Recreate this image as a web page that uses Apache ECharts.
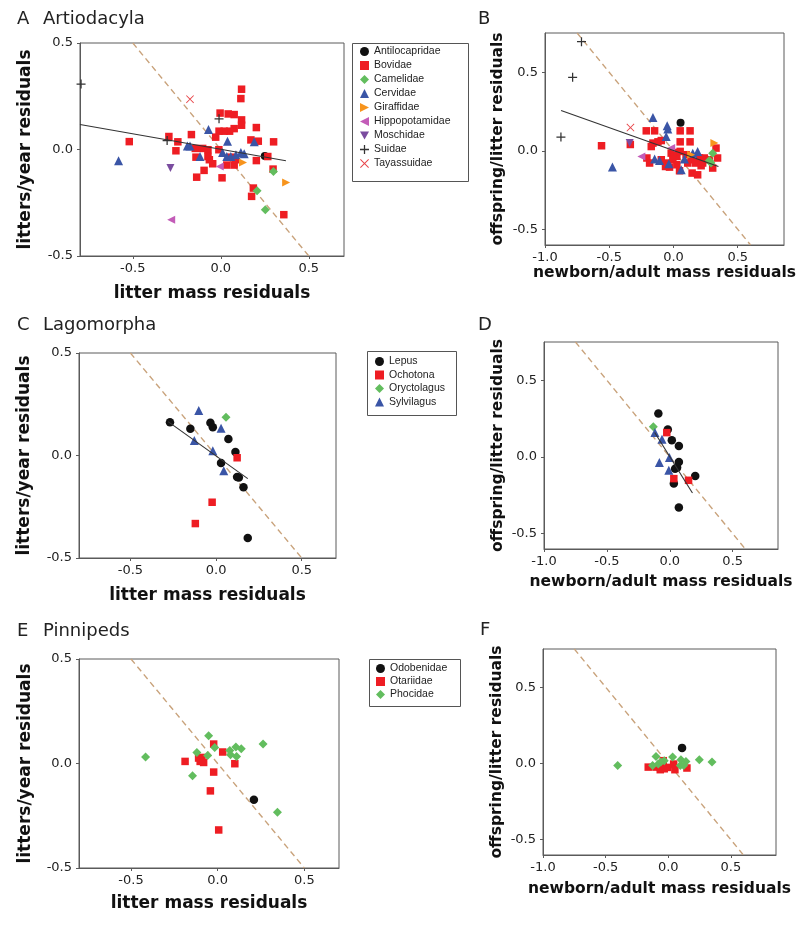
<!DOCTYPE html>
<html>
<head>
<meta charset="utf-8">
<script src="https://cdn.jsdelivr.net/npm/echarts@6/dist/echarts.min.js"></script>
<style>
html,body{margin:0;padding:0;background:#fff;}
#chart{width:800px;height:926px;}
</style>
</head>
<body>
<div id="chart"></div>
<script>
// ---------- DATA ----------
// Panel A (litter mass residuals vs litters/year residuals) - Artiodacyla
const A_Antilocapridae = [[0.25,-0.03]];
const A_Bovidae = [[-0.52,0.037],[-0.295,0.061],[-0.244,0.036],[-0.255,-0.006],[-0.167,0.07],[-0.145,0.005],[-0.103,0.005],[-0.141,-0.036],[-0.073,-0.001],[-0.073,-0.033],[-0.065,-0.048],[-0.046,-0.067],[-0.095,-0.098],[-0.137,-0.13],[0.007,-0.133],[-0.011,-0.001],[0.034,-0.073],[0.076,-0.073],[0.084,-0.048],[0.057,-0.036],[0.118,0.283],[0.114,0.239],[-0.004,0.171],[0.042,0.167],[0.076,0.164],[0.118,0.139],[0.118,0.114],[0.202,0.103],[0.076,0.098],[0.05,0.086],[0.019,0.086],[-0.01,0.086],[-0.029,0.058],[0.171,0.045],[0.213,0.039],[0.30,0.036],[0.202,-0.052],[0.267,-0.033],[0.297,-0.092],[0.185,-0.181],[0.175,-0.22],[0.358,-0.306]];
const A_Camelidae = [[0.299,-0.103],[0.206,-0.194],[0.253,-0.283]];
const A_Cervidae = [[-0.581,-0.053],[-0.19,0.017],[-0.175,0.017],[-0.118,-0.033],[-0.07,0.094],[0.038,0.039],[0.01,-0.014],[0.034,-0.033],[0.057,-0.033],[0.086,-0.025],[0.114,-0.014],[0.133,-0.02],[0.19,0.036]];
const A_Giraffidae = [[0.126,-0.061],[0.371,-0.155]];
const A_Hippopotamidae = [[-0.282,-0.33],[-0.006,-0.08]];
const A_Moschidae = [[-0.286,-0.087]];
const A_Suidae = [[-0.794,0.307],[-0.305,0.042],[-0.01,0.144]];
const A_Tayassuidae = [[-0.175,0.236]];
const A_fit = [[-0.8,0.117],[0.37,-0.053]];

// Panel B (newborn/adult mass residuals vs offspring/litter residuals) - Artiodacyla
const B_Antilocapridae = [[0.055,0.178]];
const B_Bovidae = [[-0.56,0.032],[-0.336,0.04],[-0.212,0.127],[-0.147,0.127],[0.052,0.127],[0.129,0.127],[0.052,0.057],[0.129,0.057],[-0.16,0.049],[-0.121,0.057],[-0.095,0.065],[-0.173,0.027],[-0.207,-0.046],[-0.186,-0.078],[-0.095,-0.057],[-0.057,-0.078],[-0.018,-0.015],[0.008,-0.011],[0.026,-0.036],[0.052,-0.004],[0.098,-0.025],[-0.005,-0.057],[0.026,-0.089],[0.047,-0.127],[-0.031,-0.104],[0.137,-0.057],[0.176,-0.074],[0.202,-0.046],[0.227,-0.078],[0.24,-0.046],[0.145,-0.142],[0.188,-0.153],[0.305,-0.11],[0.331,0.017],[0.279,-0.057],[0.343,-0.046],[-0.062,-0.1],[0.111,-0.078],[0.171,-0.078],[0.215,-0.095]];
const B_Camelidae = [[0.305,-0.015],[0.279,-0.062],[0.292,-0.078]];
const B_Cervidae = [[-0.16,0.212],[-0.049,0.159],[-0.044,0.138],[-0.057,0.091],[-0.475,-0.104],[-0.147,-0.053],[-0.109,-0.062],[-0.036,-0.083],[0.06,-0.121],[0.085,-0.053],[0.15,-0.015],[0.188,-0.004]];
const B_Giraffidae = [[0.137,-0.025],[0.318,0.049]];
const B_Hippopotamidae = [[-0.25,-0.036],[-0.018,0.017]];
const B_Moschidae = [[-0.341,0.049]];
const B_Suidae = [[-0.716,0.695],[-0.785,0.468],[-0.876,0.087]];
const B_Tayassuidae = [[-0.335,0.148]];
const B_fit = [[-0.875,0.256],[0.35,-0.1]];

// Panel C - Lagomorpha
const C_Lepus = [[-0.269,0.162],[-0.15,0.13],[-0.033,0.16],[-0.019,0.138],[0.072,0.081],[0.113,0.017],[0.029,-0.037],[0.133,-0.107],[0.123,-0.105],[0.16,-0.155],[0.185,-0.403]];
const C_Ochotona = [[0.123,-0.011],[-0.023,-0.228],[-0.121,-0.332]];
const C_Oryctolagus = [[0.058,0.186]];
const C_Sylvilagus = [[-0.101,0.22],[-0.127,0.073],[0.029,0.133],[-0.019,0.023],[0.045,-0.074]];
const C_fit = [[-0.28,0.165],[0.185,-0.113]];

// Panel D - Lagomorpha
const D_Lepus = [[-0.091,0.283],[-0.016,0.18],[0.016,0.109],[0.072,0.072],[0.072,-0.033],[0.058,-0.069],[0.042,-0.076],[0.202,-0.124],[0.032,-0.173],[0.072,-0.329]];
const D_Ochotona = [[-0.024,0.159],[0.032,-0.141],[0.149,-0.152]];
const D_Oryctolagus = [[-0.131,0.198]];
const D_Sylvilagus = [[-0.118,0.159],[-0.062,0.115],[-0.083,-0.036],[-0.003,-0.004],[-0.008,-0.087]];
const D_fit = [[-0.12,0.16],[0.18,-0.235]];

// Panel E - Pinnipeds
const E_Odobenidae = [[0.209,-0.174]];
const E_Otariidae = [[-0.188,0.01],[-0.11,0.026],[-0.091,0.029],[-0.101,0.01],[-0.081,0.005],[-0.023,0.093],[0.029,0.055],[0.099,-0.001],[-0.023,-0.041],[-0.042,-0.131],[0.006,-0.318]];
const E_Phocidae = [[-0.416,0.031],[-0.12,0.053],[-0.052,0.133],[-0.058,0.038],[-0.017,0.077],[-0.145,-0.059],[0.07,0.062],[0.074,0.042],[0.105,0.079],[0.109,0.034],[0.136,0.071],[0.262,0.093],[0.345,-0.233]];

// Panel F - Pinnipeds
const F_Odobenidae = [[0.11,0.102]];
const F_Otariidae = [[-0.16,-0.024],[-0.098,-0.024],[-0.064,-0.026],[-0.045,-0.004],[-0.032,-0.035],[-0.005,-0.026],[0.043,-0.004],[0.053,-0.041],[0.149,-0.03],[-0.064,-0.041],[-0.04,0.018]];
const F_Phocidae = [[-0.404,-0.013],[-0.098,0.046],[0.035,0.042],[0.248,0.024],[0.349,0.009],[-0.125,-0.013],[-0.08,-0.004],[-0.032,0.018],[0.101,0.024],[0.141,0.013],[0.096,-0.013],[0.123,-0.013],[-0.06,0.01]];

// Reference (slope -1) lines
const ref_left = [[-0.5,0.5],[0.5,-0.5]];
const ref_right = [[-0.75,0.75],[0.6,-0.6]];

// Axis ticks
const leftXTicks = [-0.5, 0, 0.5];
const leftYTicks = [-0.5, 0, 0.5];
const rightXTicks = [-1, -0.5, 0, 0.5];
const rightYTicks = [-0.5, 0, 0.5];

const artioNames = ['Antilocapridae','Bovidae','Camelidae','Cervidae','Giraffidae','Hippopotamidae','Moschidae','Suidae','Tayassuidae'];
const lagoNames = ['Lepus','Ochotona','Oryctolagus','Sylvilagus'];
const pinniNames = ['Odobenidae','Otariidae','Phocidae'];

// ---------- STYLE ----------
const COL = {
  black:'#111111', red:'#ee1d23', green:'#62bd5e', blue:'#3a55a6', orange:'#f7941d',
  pink:'#c35cb8', purple:'#7a4c9f', suid:'#333333', tayas:'#e8464b'
};
const SYM = {
  circle:'circle', rect:'rect', diamond:'diamond', tri:'triangle',
  right:'path://M0,0L10,5L0,10Z',
  left:'path://M10,0L0,5L10,10Z',
  down:'path://M0,0L10,0L5,9Z',
  plus:'path://M4.3,0H5.7V4.3H10V5.7H5.7V10H4.3V5.7H0V4.3H4.3Z',
  cross:'path://M0.8,0L5,4.2L9.2,0L10,0.8L5.8,5L10,9.2L9.2,10L5,5.8L0.8,10L0,9.2L4.2,5L0,0.8Z'
};
const artioStyle = {
  Antilocapridae:[COL.black,SYM.circle,8],
  Bovidae:[COL.red,SYM.rect,7.5],
  Camelidae:[COL.green,SYM.diamond,9],
  Cervidae:[COL.blue,SYM.tri,9],
  Giraffidae:[COL.orange,SYM.right,8],
  Hippopotamidae:[COL.pink,SYM.left,8],
  Moschidae:[COL.purple,SYM.down,8],
  Suidae:[COL.suid,SYM.plus,9],
  Tayassuidae:[COL.tayas,SYM.cross,8]
};
const lagoStyle = {
  Lepus:[COL.black,SYM.circle,8.5],
  Ochotona:[COL.red,SYM.rect,7.5],
  Oryctolagus:[COL.green,SYM.diamond,9],
  Sylvilagus:[COL.blue,SYM.tri,9]
};
const pinniStyle = {
  Odobenidae:[COL.black,SYM.circle,8.5],
  Otariidae:[COL.red,SYM.rect,7.5],
  Phocidae:[COL.green,SYM.diamond,9]
};

const grids = [
  {left:80, top:43, width:264, height:213},
  {left:545, top:33, width:239, height:212},
  {left:79, top:353, width:257, height:205},
  {left:544, top:342, width:234, height:207},
  {left:79, top:659, width:260, height:209},
  {left:543, top:649, width:233, height:206}
].map(g => Object.assign({show:true, borderColor:'#5a5a5a', borderWidth:1, containLabel:false, outerBoundsMode:'none'}, g));

const tickFont = {fontFamily:'DejaVu Sans', fontSize:13, color:'#222'};
function fmt(v){ return (Math.abs(v) < 1e-9 ? 0 : v).toFixed(1); }

function xAxis(i, left, gap, fs){
  return {
    type:'value', gridIndex:i,
    min: left ? -0.8 : -1.0, max: left ? 0.7 : 0.86,
    name: left ? 'litter mass residuals' : 'newborn/adult mass residuals',
    nameLocation:'middle', nameGap:gap,
    nameTextStyle:{fontFamily:'DejaVu Sans', fontWeight:'bold', fontSize:fs, color:'#111'},
    splitLine:{show:false},
    axisLine:{show:true, onZero:false, lineStyle:{color:'#5a5a5a'}},
    axisTick:{show:true, length:3, lineStyle:{color:'#5a5a5a'}, customValues: left ? leftXTicks : rightXTicks},
    axisLabel:Object.assign({margin:6, formatter:fmt, customValues: left ? leftXTicks : rightXTicks}, tickFont)
  };
}
function yAxis(i, left, gap, fs){
  return {
    type:'value', gridIndex:i,
    min: left ? -0.5 : -0.6, max: left ? 0.5 : 0.75,
    name: left ? 'litters/year residuals' : 'offspring/litter residuals',
    nameLocation:'middle', nameGap:gap,
    nameTextStyle:{fontFamily:'DejaVu Sans', fontWeight:'bold', fontSize:fs, color:'#111'},
    splitLine:{show:false},
    axisLine:{show:true, onZero:false, lineStyle:{color:'#5a5a5a'}},
    axisTick:{show:true, length:3, lineStyle:{color:'#5a5a5a'}, customValues: left ? leftYTicks : rightYTicks},
    axisLabel:Object.assign({margin:7, formatter:fmt, customValues: left ? leftYTicks : rightYTicks}, tickFont)
  };
}

const xAxes = [xAxis(0,true,29,17), xAxis(1,false,18,15.5), xAxis(2,true,29,17), xAxis(3,false,25,15.5), xAxis(4,true,27,17), xAxis(5,false,26,15.5)];
const yAxes = [yAxis(0,true,46,17), yAxis(1,false,39,15.5), yAxis(2,true,46,17), yAxis(3,false,38,15.5), yAxis(4,true,45,17), yAxis(5,false,38,15.5)];

const series = [];
function refLine(i, data){
  series.push({type:'line', xAxisIndex:i, yAxisIndex:i, data:data, symbol:'none', silent:true, z:1,
    lineStyle:{color:'#c9a37c', width:1.4, type:[6,4]}});
}
function fitLine(i, data){
  series.push({type:'line', xAxisIndex:i, yAxisIndex:i, data:data, symbol:'none', silent:true, z:5,
    lineStyle:{color:'#333', width:1.1}});
}
function scat(i, name, data, st){
  series.push({type:'scatter', name:name, xAxisIndex:i, yAxisIndex:i, data:data,
    symbol:st[1], symbolSize:st[2], z:3, itemStyle:{color:st[0], opacity:1}});
}

refLine(0, ref_left); refLine(1, ref_right); refLine(2, ref_left); refLine(3, ref_right); refLine(4, ref_left); refLine(5, ref_right);

const artioA = {Antilocapridae:A_Antilocapridae,Bovidae:A_Bovidae,Camelidae:A_Camelidae,Cervidae:A_Cervidae,Giraffidae:A_Giraffidae,Hippopotamidae:A_Hippopotamidae,Moschidae:A_Moschidae,Suidae:A_Suidae,Tayassuidae:A_Tayassuidae};
const artioB = {Antilocapridae:B_Antilocapridae,Bovidae:B_Bovidae,Camelidae:B_Camelidae,Cervidae:B_Cervidae,Giraffidae:B_Giraffidae,Hippopotamidae:B_Hippopotamidae,Moschidae:B_Moschidae,Suidae:B_Suidae,Tayassuidae:B_Tayassuidae};
artioNames.forEach(n => scat(0, n, artioA[n], artioStyle[n]));
artioNames.forEach(n => scat(1, n, artioB[n], artioStyle[n]));
const lagoC = {Lepus:C_Lepus,Ochotona:C_Ochotona,Oryctolagus:C_Oryctolagus,Sylvilagus:C_Sylvilagus};
const lagoD = {Lepus:D_Lepus,Ochotona:D_Ochotona,Oryctolagus:D_Oryctolagus,Sylvilagus:D_Sylvilagus};
lagoNames.forEach(n => scat(2, n, lagoC[n], lagoStyle[n]));
lagoNames.forEach(n => scat(3, n, lagoD[n], lagoStyle[n]));
const pinE = {Odobenidae:E_Odobenidae,Otariidae:E_Otariidae,Phocidae:E_Phocidae};
const pinF = {Odobenidae:F_Odobenidae,Otariidae:F_Otariidae,Phocidae:F_Phocidae};
pinniNames.forEach(n => scat(4, n, pinE[n], pinniStyle[n]));
pinniNames.forEach(n => scat(5, n, pinF[n], pinniStyle[n]));

fitLine(0, A_fit); fitLine(1, B_fit); fitLine(2, C_fit); fitLine(3, D_fit);

const legendText = {fontFamily:'Liberation Sans', fontSize:10.5, color:'#222'};
function legend(names, left, top, gap){
  return {orient:'vertical', left:left, top:top, padding:0, itemGap:gap, itemWidth:9, itemHeight:9,
    selectedMode:false, data:names, textStyle:legendText};
}

function titleText(x, y, t){
  return {type:'text', left:x, top:y, style:{text:t, font:'18px "DejaVu Sans"', fill:'#222'}};
}
function box(x, y, w, h){
  return {type:'rect', shape:{x:x+0.5, y:y+0.5, width:w, height:h}, style:{fill:'rgba(0,0,0,0)', stroke:'#555', lineWidth:1}, silent:true};
}

const option = {
  animation:false,
  backgroundColor:'#ffffff',
  grid:grids,
  xAxis:xAxes,
  yAxis:yAxes,
  legend:[legend(artioNames, 360, 46, 3), legend(lagoNames, 375, 356, 2.5), legend(pinniNames, 376, 663, 2)],
  series:series,
  graphic:[
    titleText(17, 10, 'A'), titleText(43, 10, 'Artiodacyla'),
    titleText(478, 10, 'B'),
    titleText(17, 316, 'C'), titleText(43, 316, 'Lagomorpha'),
    titleText(478, 316, 'D'),
    titleText(17, 622, 'E'), titleText(43, 622, 'Pinnipeds'),
    titleText(480, 621, 'F'),
    box(352, 43, 116, 138), box(367, 351, 89, 64), box(369, 659, 91, 47)
  ]
};

const chart = echarts.init(document.getElementById('chart'), null, {renderer:'canvas'});
chart.setOption(option);
</script>
</body>
</html>
